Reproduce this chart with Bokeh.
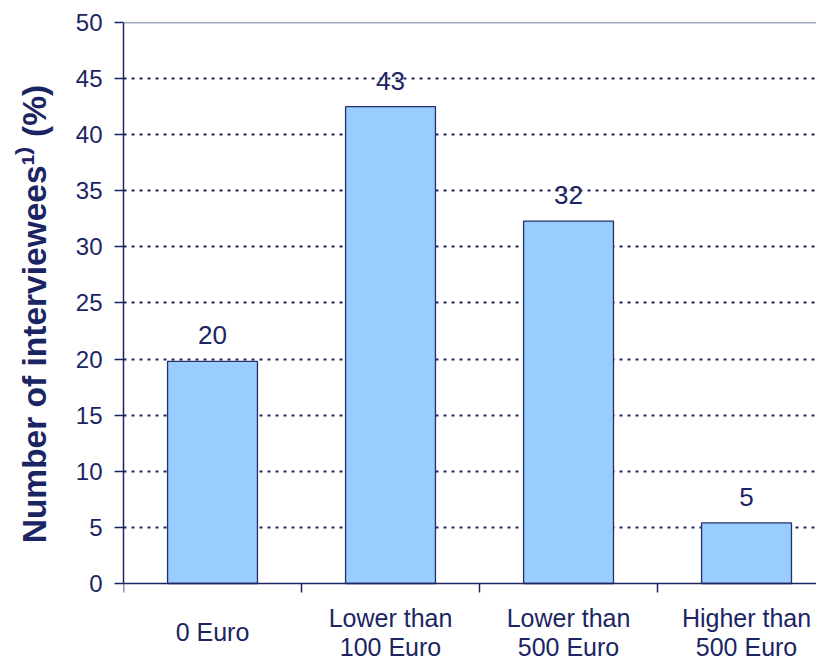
from bokeh.plotting import figure
from bokeh.models import ColumnDataSource, FixedTicker, Span
from bokeh.core.properties import value
from bokeh.embed import file_html
from bokeh.resources import INLINE

categories = ["0 Euro", "Lower than\n100 Euro", "Lower than\n500 Euro", "Higher than\n500 Euro"]
values = [19.8, 42.5, 32.3, 5.4]
labels = ["20", "43", "32", "5"]
y_ticks = [0, 5, 10, 15, 20, 25, 30, 35, 40, 45, 50]

NAVY = "#1c2563"
FONT = "Liberation Sans"

centers = [i + 0.5 for i in range(len(categories))]
src = ColumnDataSource(dict(x=centers, top=values, lab=labels, cat=categories,
                            base=[0] * len(categories)))

p = figure(width=816, height=661, output_backend="svg", toolbar_location=None,
           x_range=(0, 3.893), y_range=(-6.952, 50), x_axis_location="above",
           min_border_left=123, min_border_top=22, min_border_bottom=0, min_border_right=0)
p.outline_line_color = None
p.background_fill_color = "white"
p.border_fill_color = "white"

p.vbar(x="x", top="top", width=0.505, source=src, fill_color="#99ccff",
       line_color="#22306a", line_width=1.3)

p.text(x="x", y="top", text="lab", source=src, y_offset=-26,
       text_align="center", text_baseline="alphabetic",
       text_font=value(FONT), text_font_size="26px", text_color=NAVY)

# category labels under the axis line
p.text(x="x", y="base", text="cat", source=src, y_offset=49,
       text_align="center", text_baseline="middle", text_line_height=1.05,
       text_font=value(FONT), text_font_size="25px", text_color=NAVY)

# grid
p.xgrid.grid_line_color = None
p.ygrid.ticker = FixedTicker(ticks=y_ticks[1:])
p.ygrid.grid_line_color = NAVY
p.ygrid.grid_line_width = 2
p.ygrid.grid_line_dash = "3 5"
p.add_layout(Span(location=50, dimension="width", line_color="#4a5488", line_width=1.5))

# y axis
ya = p.yaxis[0]
ya.ticker = FixedTicker(ticks=y_ticks)
ya.bounds = (0, 50)
ya.axis_line_color = NAVY
ya.axis_line_width = 1.5
ya.major_tick_line_color = NAVY
ya.major_tick_line_width = 1.5
ya.major_tick_out = 9
ya.major_tick_in = 0
ya.minor_tick_line_color = None
ya.major_label_standoff = 12
ya.major_label_text_font = FONT
ya.major_label_text_font_size = "24px"
ya.major_label_text_color = NAVY
ya.axis_label = "\u00a0" * 6 + "Number of interviewees\u00b9\u207e (%)"
ya.axis_label_text_font = FONT
ya.axis_label_text_font_style = "bold"
ya.axis_label_text_font_size = "33.5px"
ya.axis_label_text_color = NAVY
ya.axis_label_standoff = 20

# x axis drawn at y = 0 inside the frame, ticks pointing down
xa = p.xaxis[0]
xa.fixed_location = 0
xa.ticker = FixedTicker(ticks=[0, 1, 2, 3, 4])
xa.axis_line_color = NAVY
xa.axis_line_width = 1.5
xa.major_tick_line_color = NAVY
xa.major_tick_line_width = 1.5
xa.major_tick_out = 0
xa.major_tick_in = 9
xa.minor_tick_line_color = None
xa.major_label_standoff = 0
xa.major_label_text_font_size = "0px"
xa.major_label_text_color = None

open("out.html", "w").write(file_html(p, INLINE))
